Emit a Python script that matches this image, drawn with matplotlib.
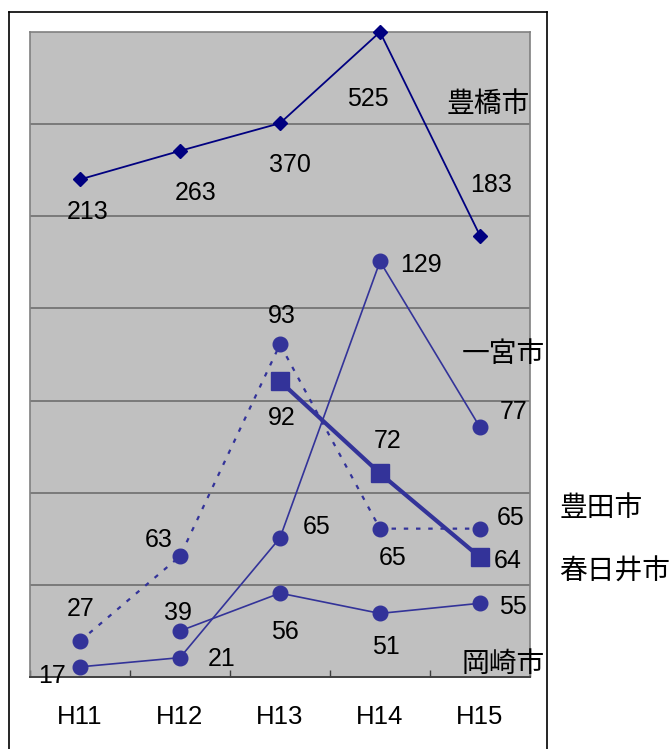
import numpy as np
import matplotlib
matplotlib.use("Agg")
import matplotlib.pyplot as plt
from matplotlib.lines import Line2D

# ---------------- data ----------------
categories = ["H11", "H12", "H13", "H14", "H15"]

# vertical positions of the marks as drawn in the chart (axis 0-700, gridline every 100)
toyohashi_pos = [540, 571, 601, 700, 479]
ichinomiya_pos = [11, 21, 151, 451, 271]
toyota_pos = [39, 131, 361, 161, 161]
kasugai_pos = [np.nan, np.nan, 321, 221, 130]
okazaki_pos = [np.nan, 50, 91, 69, 80]

# values printed next to the marks
toyohashi_lbl = [213, 263, 370, 525, 183]
ichinomiya_lbl = [17, 21, 65, 129, 77]
toyota_lbl = [27, 63, 93, 65, 65]
kasugai_lbl = [None, None, 92, 72, 64]
okazaki_lbl = [None, 39, 56, 51, 55]

series_names = ["豊橋市", "一宮市", "豊田市", "春日井市", "岡崎市"]

# ---------------- styling ----------------
W, H = 671, 749
DPI = 100
fig = plt.figure(figsize=(W / DPI, H / DPI), dpi=DPI)

NUM_FONT = dict(family=["Liberation Sans", "DejaVu Sans"], size=18)
JP_FONT = dict(family=["Noto Sans CJK JP", "DejaVu Sans"], size=20)

navy = "#000080"
blue = "#333399"

# outer chart border (box open at the bottom)
def fx(px):
    return px / W

def fy(py):
    return 1 - py / H

for xs, ys in [((9, 9), (12, 760)), ((9, 547), (12, 12)), ((547, 547), (12, 760))]:
    fig.add_artist(Line2D([fx(x) for x in xs], [fy(y) for y in ys], color="black", lw=1.2))

ax = fig.add_axes([fx(30), fy(677), (530 - 30) / W, (677 - 32) / H])
ax.set_facecolor("#C0C0C0")
ax.set_xlim(-0.5, 4.5)
ax.set_ylim(0, 700)

x = np.arange(len(categories))

ax.set_yticks(np.arange(100, 700, 100))
ax.yaxis.grid(True, color="#666666", lw=1.1)
ax.tick_params(axis="y", left=False, labelleft=False)
ax.set_axisbelow(True)

ax.set_xticks(np.arange(-0.5, 5, 1.0))
ax.set_xticklabels([])
ax.tick_params(axis="x", which="major", direction="in", length=5, width=1.0, color="#404040")
ax.set_xticks(x, minor=True)
ax.set_xticklabels(categories, minor=True, fontdict=dict(family=["Liberation Sans", "DejaVu Sans"], size=18.5))
ax.tick_params(axis="x", which="minor", length=0, pad=20)

for side in ["top", "right", "left"]:
    ax.spines[side].set_color("#808080")
    ax.spines[side].set_linewidth(1.2)
ax.spines["bottom"].set_color("#404040")
ax.spines["bottom"].set_linewidth(1.4)

# lines
ax.plot(x, toyohashi_pos, color=navy, lw=1.3, marker="D", ms=7, clip_on=False, zorder=5)
ax.plot(x, ichinomiya_pos, color=blue, lw=1.2, marker="o", ms=10.5, clip_on=False, zorder=5)
ax.plot(x, toyota_pos, color=blue, lw=1.6, ls=(0, (2, 3.5)), marker="o", ms=10.5, clip_on=False, zorder=5)
ax.plot(x, kasugai_pos, color=blue, lw=3.0, marker="s", ms=13, clip_on=False, zorder=6)
ax.plot(x, okazaki_pos, color=blue, lw=1.2, marker="o", ms=10.5, clip_on=False, zorder=5)

# label offsets in pixels (dx, dy up)
toyohashi_off = [(8, -33), (16, -42), (10, -42), (-12, -67), (11, 51)]
ichinomiya_off = [(-28, -9), (42, -1), (37, 11), (41, -4), (34, 15)]
toyota_off = [(1, 32), (-21, 16), (2, 28), (13, -29), (31, 11)]
kasugai_off = [None, None, (2, -37), (8, 32), (28, -4)]
okazaki_off = [None, (-2, 18), (5, -39), (6, -34), (33, -4)]

for pos, lbl, off in [
    (toyohashi_pos, toyohashi_lbl, toyohashi_off),
    (ichinomiya_pos, ichinomiya_lbl, ichinomiya_off),
    (toyota_pos, toyota_lbl, toyota_off),
    (kasugai_pos, kasugai_lbl, kasugai_off),
    (okazaki_pos, okazaki_lbl, okazaki_off),
]:
    for i, (p, l, o) in enumerate(zip(pos, lbl, off)):
        if l is None:
            continue
        ax.annotate(str(l), (x[i], p), xytext=o, textcoords="offset pixels",
                    ha="center", va="center", color="black", zorder=7,
                    annotation_clip=False, **NUM_FONT)

# series names (figure pixel positions)
name_pos = [(488, 104), (503, 354), (601, 508), (615, 572), (503, 664)]
for name, (px, py) in zip(series_names, name_pos):
    fig.text(fx(px), fy(py), name, ha="center", va="center", color="black", **JP_FONT)

fig.savefig("out.png", dpi=DPI)
